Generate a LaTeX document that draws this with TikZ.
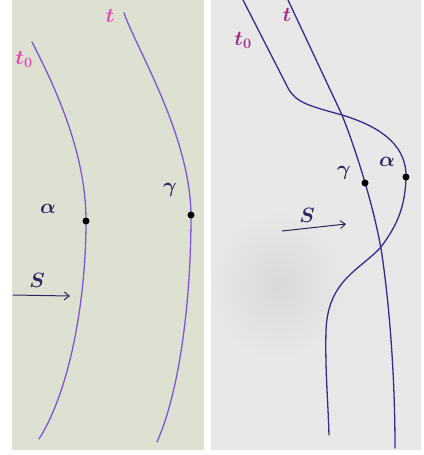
\documentclass[tikz,border=0pt]{standalone}
\usepackage{xcolor}
\usepackage{tikz}
\usetikzlibrary{arrows.meta}

\definecolor{paperL}{HTML}{DEE1D2}
\definecolor{paperR}{HTML}{E8E8E8}
\definecolor{inkL}{HTML}{7C58D8}
\definecolor{inkR}{HTML}{3B2A8E}
\definecolor{pinkL}{HTML}{E24AB2}
\definecolor{pinkR}{HTML}{A52C86}
\definecolor{pen}{HTML}{2E2460}

\begin{document}
\begin{tikzpicture}[x=1pt, y=-1pt,
    curve/.style={line width=1.3pt, line cap=round},
    dot/.style={circle, fill=black, inner sep=0pt, minimum size=7pt},
    lbl/.style={font=\huge\boldmath}]
    \useasboundingbox (0,0) rectangle (423,455);
    \fill[white] (0,0) rectangle (423,455);

    % left sheet
    \fill[paperL] (12,0) rectangle (204,450);
    \draw[curve, inkL] (32,42) .. controls (62,100) and (86,160) .. (86,221)
      .. controls (86,300) and (70,390) .. (39,439);
    \draw[curve, inkL] (124,13) .. controls (137,50) and (190,135) .. (191,215)
      .. controls (191,300) and (180,390) .. (157,442);
    \node[dot] (alphaL) at (86,221) {};
    \node[dot] (gammaL) at (191,215) {};
    \node[lbl, pinkL] (tzL) at (24,59) {$t_0$};
    \node[lbl, pinkL] (tL) at (110,16) {$t$};
    \node[lbl, pen] (aL) at (48,209) {$\alpha$};
    \node[lbl, pen] (gL) at (170,190) {$\gamma$};
    \node[lbl, pen] (sL) at (37,280) {$S$};
    \coordinate (sLa) at (13,295);
    \coordinate (sLb) at (70,296);
    \draw[pen, line width=1pt, -{Straight Barb[length=5pt, width=8pt]}] (sLa) -- (sLb);

    % right sheet
    \fill[paperR] (211,0) rectangle (421,450);
    \begin{scope}
      \clip (211,0) rectangle (421,450);
      \shade[inner color=black!15, outer color=paperR] (278,285) ellipse (70 and 75);
    \end{scope}
    \draw[curve, inkR] (243,0) -- (288,88) .. controls (296,103) and (310,106) .. (342,115)
      .. controls (385,128) and (407,148) .. (406,178)
      .. controls (405,210) and (395,228) .. (381,247)
      .. controls (360,270) and (328,280) .. (326,330)
      .. controls (325,370) and (328,400) .. (329,435);
    \draw[curve, inkR] (288,0) -- (342,115) .. controls (356,150) and (375,210) .. (382,255)
      .. controls (390,310) and (395,380) .. (395,448);
    \node[dot] (alphaR) at (406,177) {};
    \node[dot] (gammaR) at (365,183) {};
    \node[lbl, pinkR] (tzR) at (243,40) {$t_0$};
    \node[lbl, pinkR] (tR) at (287,15) {$t$};
    \node[lbl, pen] (aR) at (387,162) {$\alpha$};
    \node[lbl, pen] (gR) at (344,173) {$\gamma$};
    \node[lbl, pen] (sR) at (307,215) {$S$};
    \coordinate (sRa) at (282,231);
    \coordinate (sRb) at (346,224);
    \draw[pen, line width=1pt, -{Straight Barb[length=5pt, width=8pt]}] (sRa) -- (sRb);
\end{tikzpicture}
\end{document}
